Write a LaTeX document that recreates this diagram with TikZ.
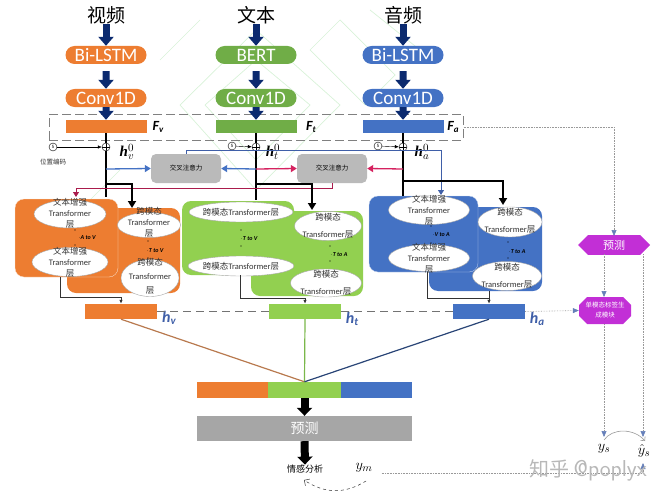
\documentclass[tikz,border=0pt]{standalone}
\usepackage{fontspec}
\setmainfont{Carlito}
\newfontfamily\cjk{Noto Sans CJK SC}
\newfontfamily\hfont{Liberation Serif}
\usetikzlibrary{arrows.meta,shapes.geometric,shapes.misc}
\definecolor{vidcol}{HTML}{ED7D31}
\definecolor{txtcol}{HTML}{70AD47}
\definecolor{lightgreen}{HTML}{92D050}
\definecolor{audcol}{HTML}{4472C4}
\definecolor{navy}{HTML}{0B2A6F}
\definecolor{purple}{HTML}{C22FD6}
\definecolor{attred}{HTML}{D5225F}
\definecolor{hcol}{HTML}{3F5FA8}
\definecolor{wm}{HTML}{D8F2D8}
\newcommand{\fcap}[2]{{\bfseries\itshape\fontsize{14}{14}\selectfont #1\raisebox{-2pt}{\fontsize{9}{9}\selectfont #2}}}
\newcommand{\hcap}[1]{{\hfont\bfseries\itshape\fontsize{15}{15}\selectfont h$^{0}_{#1}$}}
\newcommand{\hlabel}[1]{{\bfseries\itshape\color{hcol}\fontsize{16}{16}\selectfont h\raisebox{-2pt}{\fontsize{11}{11}\selectfont #1}}}
\begin{document}
\begin{tikzpicture}[
    x=1pt, y=-1pt,
    title/.style={font=\cjk\fontsize{19}{19}\selectfont, inner sep=0pt},
    pill/.style={rounded rectangle, text=white, minimum width=81pt, minimum height=18pt, inner sep=0pt, font=\fontsize{19}{19}\selectfont},
    fbar/.style={minimum width=81pt, minimum height=13pt, inner sep=0pt},
    hbox/.style={minimum width=72pt, minimum height=15pt, inner sep=0pt},
    cat/.style={minimum height=16pt, inner sep=0pt},
    attn/.style={fill=black!27, rounded corners=5pt, minimum width=70pt, minimum height=29pt, inner sep=0pt, font=\cjk\fontsize{6.5}{6.5}\selectfont},
    panel/.style={rounded corners=9pt, inner sep=0pt},
    oval/.style={ellipse, fill=white, draw=black!35, line width=0.4pt, inner sep=0pt},
    ovaltext/.style={align=center, inner sep=0pt, text=black!80, font=\fontsize{8.5}{11}\selectfont},
    pair/.style={inner sep=0pt, font=\bfseries\itshape\fontsize{6}{6}\selectfont},
    plus/.style={circle, draw, line width=0.4pt, minimum size=8pt, inner sep=0pt, path picture={\draw[line width=0.4pt] (path picture bounding box.north) -- (path picture bounding box.south) (path picture bounding box.west) -- (path picture bounding box.east);}},
    posenc/.style={circle, draw, line width=0.4pt, minimum size=8pt, inner sep=0pt, font=\fontsize{5}{5}\selectfont},
    bigarrow/.style={-{Triangle[length=9pt,width=15pt]}, line width=7pt, navy},
    blackarrow/.style={-{Triangle[length=8pt,width=15pt]}, line width=8pt, black},
    bus/.style={line width=1.8pt},
    outline/.style={draw=black!80, line width=1pt},
    thin tip/.style={-{Latex[length=4pt,width=3.5pt]}},
    dotline/.style={draw=black!40, densely dotted, line width=0.6pt},
    probe/.style={dotline, -{Triangle[length=6pt,width=5pt,fill=hcol!80,color=hcol!80]}}
]
\useasboundingbox (0,0) rectangle (668,500);

% Wasserzeichen
\draw[wm, line width=0.7pt] (256,30) -- (180,105) -- (256,190) -- (340,105) -- cycle
  (256,60) -- (205,105) -- (256,160) -- (310,105) -- cycle
  (340,20) -- (395,75) -- (365,105) -- (310,50) -- cycle
  (160,60) -- (200,20) (120,170) -- (90,200) (370,10) -- (420,50);

% Eingaben
\node[title] at (106,15) (vid) {视频};
\node[title] at (256,15) (txt) {文本};
\node[title] at (403,15) (aud) {音频};

\node[pill, fill=vidcol] at (106,55) (vlstm) {Bi-LSTM};
\node[pill, fill=txtcol] at (256,55) (bert) {BERT};
\node[pill, fill=audcol] at (403,55) (alstm) {Bi-LSTM};
\node[pill, fill=vidcol] at (106,98) (vconv) {Conv1D};
\node[pill, fill=txtcol] at (256,98) (tconv) {Conv1D};
\node[pill, fill=audcol] at (403,98) (aconv) {Conv1D};

\node[draw=black!50, dash pattern=on 9pt off 4pt, line width=1pt, minimum width=414pt, minimum height=26pt, inner sep=0pt] at (256,127) (fbox) {};
\node[fbar, fill=vidcol] at (106,126.5) (fv) {};
\node[fbar, fill=txtcol] at (256,126.5) (ft) {};
\node[fbar, fill=audcol] at (403,126.5) (fa) {};
\node at (158,127) (fvlabel) {\fcap{F}{v}};
\node at (311,127) (ftlabel) {\fcap{F}{t}};
\node at (453,127) (falabel) {\fcap{F}{a}};

\draw[bigarrow] (vid) -- (vlstm);
\draw[bigarrow] (txt) -- (bert);
\draw[bigarrow] (aud) -- (alstm);
\draw[bigarrow] (vlstm.south) ++(0,7) -- (vconv);
\draw[bigarrow] (bert.south) ++(0,7) -- (tconv);
\draw[bigarrow] (alstm.south) ++(0,7) -- (aconv);
\draw[bigarrow] (vconv) -- (fv.north);
\draw[bigarrow] (tconv) -- (ft.north);
\draw[bigarrow] (aconv) -- (fa.north);

% Modale Bloecke
\node[panel, fill=vidcol, minimum width=113pt, minimum height=85pt] at (123.5,250.5) (vpanelb) {};
\node[panel, fill=vidcol, draw=white!80!vidcol, line width=0.3pt, minimum width=103pt, minimum height=78pt] at (66.5,238) (vpanela) {};
\node[panel, fill=lightgreen, minimum width=112pt, minimum height=85pt] at (307,253.5) (tpanelb) {};
\node[panel, fill=lightgreen, minimum width=112pt, minimum height=74pt] at (238,238) (tpanela) {};
\node[panel, fill=audcol, minimum width=113pt, minimum height=84pt] at (485.5,249) (apanelb) {};
\node[panel, fill=audcol, draw=white!70!audcol, line width=0.3pt, minimum width=109pt, minimum height=76pt] at (423.5,234) (apanela) {};

% Ellipsen
\node[oval, minimum width=72pt, minimum height=28pt] at (70,214) (va) {};
\node[oval, minimum width=76pt, minimum height=29pt] at (70,262) (vb) {};
\node[oval, minimum width=63pt, minimum height=25pt] at (149,225) (vc) {};
\node[oval, minimum width=58pt, minimum height=37pt] at (150,278) (vd) {};
\node[oval, minimum width=104pt, minimum height=20pt] at (241,212) (ta) {};
\node[oval, minimum width=106pt, minimum height=20pt] at (241,266) (tb) {};
\node[oval, minimum width=67pt, minimum height=29pt] at (328,226) (tc) {};
\node[oval, minimum width=71pt, minimum height=28pt] at (326,283) (td) {};
\node[oval, minimum width=81pt, minimum height=29pt] at (429,210) (aa) {};
\node[oval, minimum width=81pt, minimum height=27pt] at (429,258) (ab) {};
\node[oval, minimum width=64pt, minimum height=30pt] at (510,222) (ac) {};
\node[oval, minimum width=69pt, minimum height=29pt] at (507,276) (ad) {};

\node[ovaltext] at (70,213) (vatext) {{\cjk 文本增强}\\Transformer\\{\cjk 层}};
\node[ovaltext] at (70,262) (vbtext) {{\cjk 文本增强}\\Transformer\\{\cjk 层}};
\node[ovaltext] at (149,222) (vctext) {{\cjk 跨模态}\\Transformer\\{\cjk 层}};
\node[ovaltext, font=\fontsize{8.5}{14}\selectfont] at (150,276) (vdtext) {{\cjk 跨模态}\\Transformer\\{\cjk 层}};
\node[ovaltext] at (241,212) (tatext) {{\cjk 跨模态}Transformer{\cjk 层}};
\node[ovaltext] at (241,266) (tbtext) {{\cjk 跨模态}Transformer{\cjk 层}};
\node[ovaltext, font=\fontsize{8.5}{17}\selectfont] at (328,226) (tctext) {{\cjk 跨模态}\\Transformer{\cjk 层}};
\node[ovaltext, font=\fontsize{8.5}{17}\selectfont] at (326,283) (tdtext) {{\cjk 跨模态}\\Transformer{\cjk 层}};
\node[ovaltext] at (429,210) (aatext) {{\cjk 文本增强}\\Transformer\\{\cjk 层}};
\node[ovaltext] at (429,258) (abtext) {{\cjk 文本增强}\\Transformer\\{\cjk 层}};
\node[ovaltext, font=\fontsize{8.5}{17}\selectfont] at (510,221) (actext) {{\cjk 跨模态}\\Transformer{\cjk 层}};
\node[ovaltext, font=\fontsize{8.5}{17}\selectfont] at (507,276) (adtext) {{\cjk 跨模态}\\Transformer{\cjk 层}};

% Paarbezeichnungen
\node[pair] at (87,238) (pairav) {$\cdot$A to V};
\node[pair] at (155,251) (pairtv) {$\cdot$T to V};
\node[pair] at (249,239) (pairtvb) {$\cdot$T to V};
\node[pair] at (339,255) (pairta) {$\cdot$T to A};
\node[pair] at (441,235) (pairva) {$\cdot$V to A};
\node[pair] at (517,252) (pairtab) {$\cdot$T to A};
\foreach \dotx/\doty in {75/230,75/245,148/241,148/258,241/230,241/246,330/246,330/261,431/226,431/243,508/242,508/258}
  \fill (\dotx,\doty) circle (0.7pt);

% Positionskodierung
\node[plus] at (106,147) (vplus) {};
\node[plus] at (256,147) (tplus) {};
\node[plus] at (403,147) (aplus) {};
\node[posenc] at (53,147) (vpos) {S};
\node[posenc] at (232,146) (tpos) {S};
\node[posenc] at (378,146) (apos) {S};
\node[font=\cjk\fontsize{6.5}{6.5}\selectfont, text=black!80] at (53,162) (poslabel) {位置编码};
\node at (127,152) (hv) {\hcap{v}};
\node at (273,152) (ht) {\hcap{t}};
\node at (422,152) (ha) {\hcap{a}};
\draw[thin tip, line width=0.4pt] (vpos) -- (vplus);
\draw[thin tip, line width=0.4pt] (tpos) -- (tplus);
\draw[thin tip, line width=0.4pt] (apos) -- (aplus);

% Kreuzaufmerksamkeit
\node[attn] at (186,168.5) (attn1) {交叉注意力};
\node[attn] at (332,168.5) (attn2) {交叉注意力};
\coordinate (vtap) at (106,169);
\coordinate (ttap) at (256,169);
\coordinate (atap) at (403,169);
\coordinate (vsplit) at (106,184);
\coordinate (tsplit) at (256,184);
\coordinate (asplit) at (403,181);
\coordinate (vcross) at (132,208);
\coordinate (tcross) at (312,210);
\coordinate (across) at (503,205);
\coordinate (vend) at (106,197);
\coordinate (tend) at (256,200);
\coordinate (aend) at (403,196);

\draw[bus] (fv.south) -- (vplus) -- (vend);
\draw[bus] (ft.south) -- (tplus) -- (tend);
\draw[bus] (fa.south) -- (aplus) -- (aend);

\draw[-{Triangle[length=6pt,width=7pt]}, audcol, line width=1.3pt] (vtap) -- (attn1.west);
\draw[-{Triangle[length=6pt,width=7pt]}, audcol, line width=1.3pt] (ttap) -- (attn1.east);
\draw[-{Triangle[length=6pt,width=7pt]}, attred, line width=1.3pt] (ttap) -- (attn2.west);
\draw[-{Triangle[length=6pt,width=7pt]}, attred, line width=1.3pt] (atap) -- (attn2.east);
\draw[-{Triangle[length=5pt,width=6pt]}, hcol, line width=0.9pt] (attn1.north) -- ++(0,-3) -| (441,195);
\draw[-{Triangle[length=5pt,width=6pt]}, attred!80!black, line width=0.9pt] (attn2.south) -- ++(0,5) -| (76,197);

\draw[-{Triangle[length=7pt,width=8pt]}, bus] (vsplit) -| (vcross);
\draw[-{Triangle[length=7pt,width=8pt]}, bus] (tsplit) -| (tcross);
\draw[-{Triangle[length=7pt,width=8pt]}, bus] (asplit) -| (across);

% Ausgabe der Bloecke
\node[hbox, fill=vidcol] at (121,311.5) (hvbar) {};
\node[hbox, fill=lightgreen] at (305,311.5) (htbar) {};
\node[hbox, fill=audcol] at (489,311.5) (habar) {};
\node at (169,318) (hvlabel) {\hlabel{v}};
\node at (352,319) (htlabel) {\hlabel{t}};
\node at (537,319) (halabel) {\hlabel{a}};
\draw[outline] (60,277) |- (121,297);
\draw[thin tip, outline] (121,297) -- (hvbar.north);
\draw[outline] (240,275) |- (305,298);
\draw[thin tip, outline] (305,298) -- (htbar.north);
\draw[outline] (427,272) |- (489,298);
\draw[thin tip, outline] (489,291) -- (habar.north);
\draw[draw=black!55, line width=0.8pt, dash pattern=on 8pt off 5pt] (hvbar.east) -- (htbar.west);
\draw[draw=black!55, line width=0.8pt, dash pattern=on 8pt off 5pt] (htbar.east) -- (habar.west);

% Fusion
\node[cat, fill=vidcol, minimum width=71pt] at (232.5,390) (catv) {};
\node[cat, fill=lightgreen, minimum width=73pt] at (304.5,390) (catt) {};
\node[cat, fill=audcol, minimum width=71pt] at (376.5,390) (cata) {};
\draw[draw=vidcol!70!black!80, line width=1.2pt] (hvbar.south) -- (catt.north);
\draw[draw=txtcol!70!lightgreen, line width=1.2pt] (htbar.south) -- (catt.north);
\draw[draw=audcol!60!black, line width=1.2pt] (habar.south) -- (catt.north);

\node[fill=black!35, text=white, minimum width=215pt, minimum height=25pt, inner sep=0pt, font=\cjk\fontsize{14}{14}\selectfont] at (304.5,428.5) (predm) {预测};
\node[font=\cjk\fontsize{9}{9}\selectfont, inner sep=0pt] at (305,469) (senti) {情感分析};
\node[inner sep=0pt] at (364,468) (ym) {\fontsize{15}{15}\selectfont $y_{\scriptstyle m}$};
\draw[blackarrow] (catt.south) -- (predm.north);
\draw[blackarrow] (predm.south) -- (senti.north);
\coordinate (ymcurve) at (366,481);
\coordinate (senticurve) at (304,480);
\draw[-{Straight Barb[length=4pt]}, dashed, line width=0.5pt, draw=black!80] (ymcurve) .. controls (345,494) and (325,494) .. (senticurve);

% Einzelmodale Labels
\node[chamfered rectangle, chamfered rectangle xsep=5pt, chamfered rectangle ysep=5pt, fill=purple, text=white, minimum width=72pt, minimum height=18pt, inner sep=0pt, font=\cjk\fontsize{11}{11}\selectfont] at (614,245) (preds) {预测};
\node[chamfered rectangle, chamfered rectangle xsep=4pt, chamfered rectangle ysep=4pt, fill=purple, text=white, minimum width=52pt, minimum height=27pt, inner sep=0pt, align=center, font=\cjk\fontsize{6.5}{10}\selectfont] at (605,310.5) (labelgen) {单模态标签生\\成模块};
\node[inner sep=0pt] at (604,449) (ys) {\fontsize{15}{15}\selectfont $y_{\scriptstyle s}$};
\node[inner sep=0pt] at (644,451) (yshat) {\fontsize{15}{15}\selectfont $\hat{y}_{\scriptstyle s}$};
\coordinate (yslinks) at (604,440);
\coordinate (yshatlinks) at (645,441);
\coordinate (predsin) at (614,236);

\draw[probe] (fbox.east) -| (predsin);
\draw[probe] (habar.east) -- (labelgen.west);
\draw[probe] (604,254) -- (604,297);
\draw[probe] (604,324) -- (604,437);
\draw[probe] (643,254) -- (643,437);
\draw[-{Straight Barb[length=3pt]}, draw=black!40, line width=0.6pt] (yslinks) .. controls (612,428) and (634,428) .. (yshatlinks);
\draw[probe] (ym.east) ++(9,5) -| (643,463);

% Bildmarke
\node[text=black!28, font=\cjk\fontsize{20}{20}\selectfont, inner sep=0pt] at (588,470) (mark) {知乎 {\fontfamily{lmss}\fontsize{23}{23}\selectfont @poplyx}};
\end{tikzpicture}
\end{document}
